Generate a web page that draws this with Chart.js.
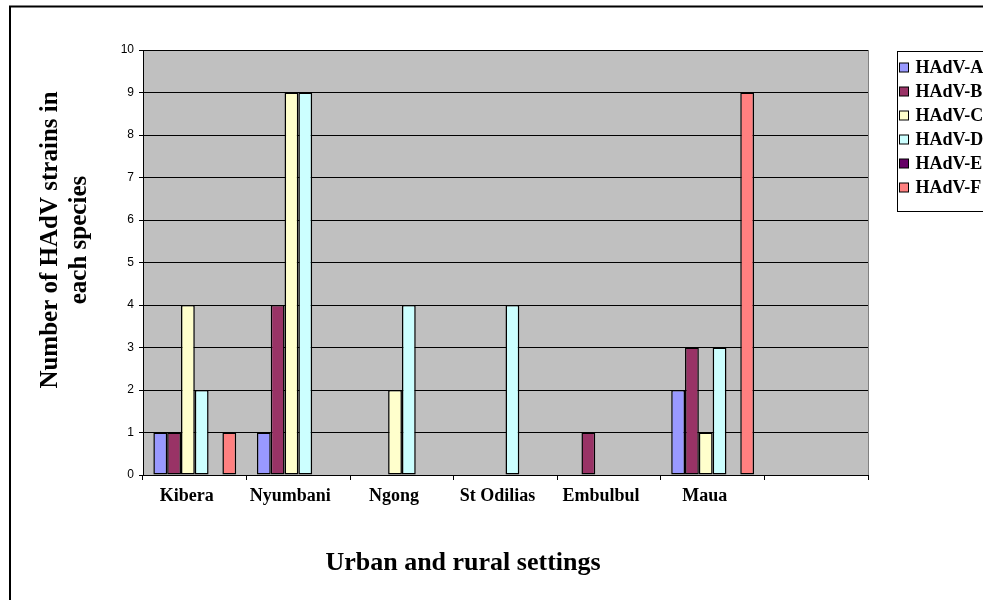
<!DOCTYPE html>
<html>
<head>
<meta charset="utf-8">
<script src="https://cdn.jsdelivr.net/npm/chart.js@4.4.1/dist/chart.umd.min.js"></script>
<style>
  html, body { margin: 0; padding: 0; background: #fff; }
  #wrap { width: 983px; height: 600px; }
</style>
</head>
<body>
<div id="wrap"><canvas id="adenoChart"></canvas></div>
<script>
// sites sampled, last slot left empty on the axis
const sites = ['Kibera', 'Nyumbani', 'Ngong', 'St Odilias', 'Embulbul', 'Maua', ''];

// strain counts per species at each site
const hadvA = [1, 1, 0, 0, 0, 2, null];
const hadvB = [1, 4, 0, 0, 1, 3, null];
const hadvC = [4, 9, 2, 0, 0, 1, null];
const hadvD = [2, 9, 4, 4, 0, 3, null];
const hadvE = [0, 0, 0, 0, 0, 0, null];
const hadvF = [1, 0, 0, 0, 0, 9, null];

const yMin = 0;
const yMax = 10;
const yStep = 1;

const yTitle = ['Number of HAdV strains in', 'each species'];
const xTitle = 'Urban and rural settings';

const serif = '"Liberation Serif", "Times New Roman", serif';
const sans = '"Liberation Sans", Arial, sans-serif';

function series(label, data, color) {
    return {
        label: label,
        data: data,
        backgroundColor: color,
        borderColor: '#000000',
        borderWidth: 1.5,
        borderSkipped: false,
        barPercentage: 1,
        categoryPercentage: 0.8
    };
}

// grey plot area, outer frame, boxed legend and both axis captions
const excelFrame = {
    id: 'excelFrame',
    beforeDraw(chart) {
        const { ctx, chartArea: a } = chart;
        ctx.save();
        ctx.fillStyle = '#c0c0c0';
        ctx.fillRect(a.left, a.top, a.right - a.left, a.bottom - a.top);
        ctx.restore();
    },
    afterDraw(chart) {
        const { ctx, chartArea: a } = chart;
        ctx.save();

        ctx.strokeStyle = '#808080';
        ctx.lineWidth = 1;
        ctx.beginPath();
        ctx.moveTo(a.right + 0.5, a.top);
        ctx.lineTo(a.right + 0.5, a.bottom);
        ctx.stroke();

        ctx.strokeStyle = '#000000';
        ctx.lineWidth = 2;
        ctx.strokeRect(10, 6.5, 1000, 620);

        // legend
        const lx = 897.5, ly = 51.5;
        ctx.lineWidth = 1;
        ctx.strokeRect(lx, ly, 140, 160);
        ctx.font = 'bold 18px ' + serif;
        ctx.textBaseline = 'middle';
        ctx.textAlign = 'left';
        chart.data.datasets.forEach((ds, i) => {
            const y = Math.round(ly + 15 + i * 24);
            ctx.fillStyle = ds.backgroundColor;
            ctx.fillRect(lx + 2, y - 4, 9, 9);
            ctx.strokeRect(lx + 2, y - 4, 9, 9);
            ctx.fillStyle = '#000000';
            ctx.fillText(ds.label, lx + 18, y + 1);
        });

        // x caption, centred under the framed area left of the legend
        ctx.font = 'bold 26px ' + serif;
        ctx.textAlign = 'center';
        ctx.fillStyle = '#000000';
        ctx.fillText(xTitle, 463, 563);

        // y caption, two rotated lines
        ctx.font = 'bold 25px ' + serif;
        ctx.translate(0, 240);
        ctx.rotate(-Math.PI / 2);
        yTitle.forEach((line, i) => {
            ctx.fillText(line, 0, 51 + i * 29);
        });
        ctx.restore();
    }
};

new Chart(document.getElementById('adenoChart'), {
    type: 'bar',
    data: {
        labels: sites,
        datasets: [
            series('HAdV-A', hadvA, '#9999ff'),
            series('HAdV-B', hadvB, '#993366'),
            series('HAdV-C', hadvC, '#ffffcc'),
            series('HAdV-D', hadvD, '#ccffff'),
            series('HAdV-E', hadvE, '#660066'),
            series('HAdV-F', hadvF, '#ff8080')
        ]
    },
    plugins: [excelFrame],
    options: {
        responsive: true,
        maintainAspectRatio: false,
        animation: false,
        layout: {
            padding: { left: 10, right: 115, top: 50, bottom: 0 }
        },
        plugins: {
            legend: { display: false },
            tooltip: { enabled: false }
        },
        scales: {
            x: {
                afterFit: (scale) => { scale.height = 125; },
                grid: {
                    drawOnChartArea: false,
                    drawTicks: true,
                    tickLength: 5,
                    color: '#000000',
                    offset: true
                },
                border: { color: '#000000', width: 1 },
                ticks: {
                    color: '#000000',
                    autoSkip: false,
                    maxRotation: 0,
                    minRotation: 0,
                    padding: 6,
                    labelOffset: -8,
                    font: { family: serif, size: 18, weight: 'bold' }
                }
            },
            y: {
                min: yMin,
                max: yMax,
                afterFit: (scale) => { scale.width = 133; },
                grid: {
                    color: '#000000',
                    tickLength: 4
                },
                border: { color: '#000000', width: 1 },
                ticks: {
                    stepSize: yStep,
                    color: '#000000',
                    padding: 5,
                    font: { family: sans, size: 12 }
                }
            }
        }
    }
});
</script>
</body>
</html>
